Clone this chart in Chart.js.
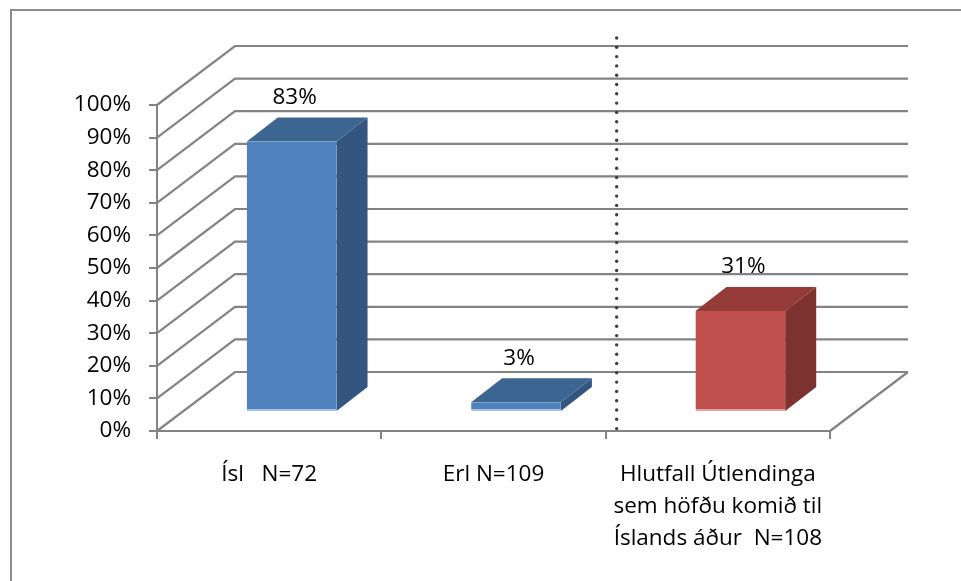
<!DOCTYPE html>
<html>
<head>
<meta charset="utf-8">
<script src="https://cdn.jsdelivr.net/npm/chart.js@4/dist/chart.umd.min.js"></script>
<style>
  body { margin: 0; background: #fff; }
  canvas { display: block; }
</style>
</head>
<body>
<canvas id="chart" width="961" height="581"></canvas>
<script>
// Gögn
const categories = [
  'Ísl   N=72',
  'Erl N=109',
  ['Hlutfall Útlendinga', 'sem höfðu komið til', 'Íslands áður  N=108']
];
const percentages = [83, 3, 31];
const yTicks = [0, 10, 20, 30, 40, 50, 60, 70, 80, 90, 100];

// Litir
const frontColors = ['#4f81bd', '#4f81bd', '#c0504d'];
const sideColors = ['#33557f', '#33557f', '#7d3230'];
const topColors = ['#3d6591', '#3d6591', '#943a38'];
const baseColors = ['#a9c1e4', '#a9c1e4', '#e2a3a1'];

const FONT = { family: '"Open Sans", "Liberation Sans", sans-serif', size: 22.5 };
const GRID = '#838383';

// 3D dýpt
const WALL_DX = 78, WALL_DY = -59;
const BAR_DX = 22.5, BAR_DY = -19;
const DEPTH_DX = 31, DEPTH_DY = -24;

const frame = {
  id: 'frame',
  beforeDraw(chart) {
    const ctx = chart.ctx;
    ctx.save();
    ctx.fillStyle = '#fff';
    ctx.fillRect(0, 0, chart.width, chart.height);
    ctx.strokeStyle = '#8c8c8c';
    ctx.lineWidth = 2;
    ctx.strokeRect(11, 10, 1200, 1200);
    ctx.restore();
  }
};

const walls = {
  id: 'walls',
  beforeDatasetsDraw(chart) {
    const { ctx, chartArea: a, scales: { y } } = chart;
    ctx.save();
    ctx.strokeStyle = GRID;
    ctx.lineWidth = 2.2;
    ctx.beginPath();
    yTicks.forEach((v) => {
      const py = y.getPixelForValue(v);
      ctx.moveTo(a.left, py);
      ctx.lineTo(a.left + WALL_DX, py + WALL_DY);
      ctx.lineTo(a.right + WALL_DX, py + WALL_DY);
    });
    ctx.moveTo(a.right, a.bottom);
    ctx.lineTo(a.right + WALL_DX, a.bottom + WALL_DY);
    ctx.stroke();
    ctx.restore();
  },
  beforeDatasetDraw(chart) {
    chart.ctx.save();
    chart.ctx.translate(BAR_DX, BAR_DY);
  },
  afterDatasetDraw(chart, args) {
    const ctx = chart.ctx;
    args.meta.data.forEach((bar, i) => {
      const { x, y, base, width } = bar.getProps(['x', 'y', 'base', 'width'], true);
      const l = x - width / 2, r = x + width / 2;
      // hlið
      ctx.fillStyle = sideColors[i];
      ctx.beginPath();
      ctx.moveTo(r, y);
      ctx.lineTo(r + DEPTH_DX, y + DEPTH_DY);
      ctx.lineTo(r + DEPTH_DX, base + DEPTH_DY);
      ctx.lineTo(r, base);
      ctx.closePath();
      ctx.fill();
      // toppur
      ctx.fillStyle = topColors[i];
      ctx.beginPath();
      ctx.moveTo(l, y);
      ctx.lineTo(l + DEPTH_DX, y + DEPTH_DY);
      ctx.lineTo(r + DEPTH_DX, y + DEPTH_DY);
      ctx.lineTo(r, y);
      ctx.closePath();
      ctx.fill();
    });
    ctx.restore();
  },
  afterDatasetsDraw(chart) {
    const { ctx, chartArea: a, scales: { x, y } } = chart;
    const meta = chart.getDatasetMeta(0);
    ctx.save();
    ctx.font = `${FONT.size}px ${FONT.family}`;
    ctx.fillStyle = '#000';
    ctx.textAlign = 'center';
    ctx.textBaseline = 'middle';
    meta.data.forEach((bar, i) => {
      ctx.fillText(percentages[i] + '%', bar.x + BAR_DX + 3, bar.y + BAR_DY - 44);
    });
    // punktalína
    const lx = x.getPixelForValue(1.5) + 11;
    const top = y.getPixelForValue(100) + WALL_DY - 8;
    ctx.fillStyle = '#3f3f3f';
    for (let py = top; py <= a.bottom - 2; py += 9.3) {
      ctx.beginPath();
      ctx.arc(lx, py, 1.7, 0, Math.PI * 2);
      ctx.fill();
    }
    ctx.restore();
  }
};

new Chart(document.getElementById('chart'), {
  type: 'bar',
  data: {
    labels: categories,
    datasets: [{
      data: percentages,
      backgroundColor: frontColors,
      borderColor: baseColors,
      borderWidth: { top: 0, left: 0, right: 0, bottom: 2 },
      borderSkipped: false,
      barPercentage: 0.4,
      categoryPercentage: 1,
      clip: false
    }]
  },
  options: {
    responsive: false,
    animation: false,
    events: [],
    layout: { padding: { left: 0, top: 105, right: 131, bottom: 0 } },
    plugins: { legend: { display: false }, tooltip: { enabled: false } },
    scales: {
      x: {
        afterFit: (s) => { s.height = 150; },
        grid: { drawOnChartArea: false, drawTicks: true, tickLength: 8, color: GRID, lineWidth: 2, offset: true },
        border: { color: GRID, width: 2 },
        ticks: { color: '#000', font: { ...FONT, lineHeight: 32 / FONT.size }, padding: 20, maxRotation: 0, autoSkip: false },
      },
      y: {
        min: 0,
        max: 100,
        afterFit: (s) => { s.width = 157; },
        afterBuildTicks: (s) => { s.ticks = yTicks.map((v) => ({ value: v })); },
        grid: { drawOnChartArea: false, drawTicks: true, tickLength: 8, color: GRID, lineWidth: 2 },
        border: { color: GRID, width: 2 },
        ticks: { color: '#000', font: FONT, padding: 18, callback: (v) => v + '%' }
      }
    }
  },
  plugins: [frame, walls]
});
</script>
</body>
</html>
